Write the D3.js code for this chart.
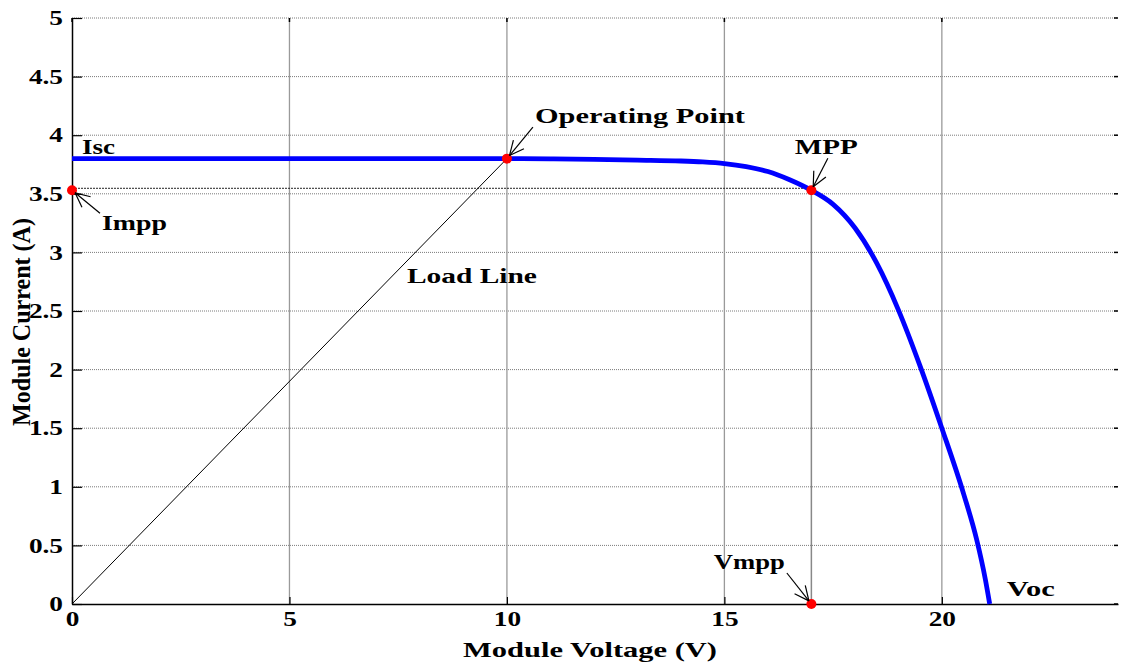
<!DOCTYPE html>
<html>
<head>
<meta charset="utf-8">
<script src="https://cdn.jsdelivr.net/npm/d3@7"></script>
<style>
  body { margin: 0; background: #fff; }
  svg { display: block; }
  text { font-family: "Liberation Serif", "Times New Roman", serif; font-weight: bold; fill: #000; }
</style>
</head>
<body>
<svg id="chart" width="1128" height="662"></svg>
<script>
// I-V curve of the PV module
const voltage = [0, 2, 4, 6, 8, 10, 11, 12, 13, 14, 14.5, 15, 15.5, 16, 16.5, 17, 17.5, 18, 18.5, 19, 19.5, 20, 20.5, 20.8, 21.0, 21.1];
const current = [3.8, 3.8, 3.8, 3.8, 3.8, 3.8, 3.798, 3.793, 3.787, 3.78, 3.772, 3.758, 3.732, 3.69, 3.62, 3.53, 3.41, 3.21, 2.91, 2.51, 2.03, 1.50, 0.94, 0.55, 0.21, 0];

// special points
const pointNames = ['Isc', 'Operating Point', 'MPP', 'Impp', 'Vmpp', 'Voc'];
const pointV = [0, 10, 17, 0, 17, 21.1];
const pointI = [3.8, 3.8, 3.53, 3.53, 0, 0];
const redDots = ['Operating Point', 'MPP', 'Impp', 'Vmpp'];

const xTicks = [0, 5, 10, 15, 20];
const yTicks = [0, 0.5, 1, 1.5, 2, 2.5, 3, 3.5, 4, 4.5, 5];
const xLabel = 'Module Voltage (V)';
const yLabel = 'Module Current (A)';

const margin = { left: 72, right: 10, top: 18, bottom: 58 };
const W = 1128, H = 662;

const x = d3.scaleLinear().domain([0, 24.05]).range([margin.left, W - margin.right]);
const y = d3.scaleLinear().domain([0, 5]).range([H - margin.bottom, margin.top]);

const pt = name => {
  const i = pointNames.indexOf(name);
  return [x(pointV[i]), y(pointI[i])];
};

const svg = d3.select('#chart');

// horizontal dotted grid
svg.append('g')
  .selectAll('line')
  .data(yTicks.filter(d => d > 0))
  .enter().append('line')
  .attr('x1', x.range()[0]).attr('x2', x.range()[1])
  .attr('y1', d => y(d)).attr('y2', d => y(d))
  .attr('stroke', '#7a7a7a').attr('stroke-width', 1)
  .attr('stroke-dasharray', '1,1');

// vertical grid
svg.append('g')
  .selectAll('line')
  .data(xTicks.filter(d => d > 0))
  .enter().append('line')
  .attr('x1', d => x(d)).attr('x2', d => x(d))
  .attr('y1', y(0)).attr('y2', y(5))
  .attr('stroke', '#9a9a9a').attr('stroke-width', 1.3);

// MPP guide lines
const mpp = pt('MPP');
svg.append('line')
  .attr('x1', x(0)).attr('x2', mpp[0])
  .attr('y1', mpp[1] - 2).attr('y2', mpp[1] - 2)
  .attr('stroke', '#222').attr('stroke-width', 1)
  .attr('stroke-dasharray', '2,1');
svg.append('line')
  .attr('x1', mpp[0]).attr('x2', mpp[0])
  .attr('y1', mpp[1]).attr('y2', y(0))
  .attr('stroke', '#888').attr('stroke-width', 1.5);

// load line
const op = pt('Operating Point');
svg.append('line')
  .attr('x1', x(0)).attr('y1', y(0))
  .attr('x2', op[0]).attr('y2', op[1])
  .attr('stroke', '#000').attr('stroke-width', 1);

// axes
const leftAxis = d3.axisLeft(y).tickValues(yTicks).tickSize(-10).tickSizeOuter(0).tickPadding(9)
  .tickFormat(d3.format('~g'));
const bottomAxis = d3.axisBottom(x).tickValues(xTicks).tickSize(-7).tickSizeOuter(0).tickPadding(7);

const gy = svg.append('g').attr('transform', `translate(${margin.left},0)`).call(leftAxis);
const gx = svg.append('g').attr('transform', `translate(0,${H - margin.bottom})`).call(bottomAxis);
[gy, gx].forEach(g => {
  g.select('.domain').attr('stroke', '#000').attr('stroke-width', 1.5);
  g.selectAll('.tick line').attr('stroke', '#000').attr('stroke-width', 1.2);
  g.selectAll('.tick text')
    .style('font-family', '"Liberation Serif", "Times New Roman", serif')
    .style('font-weight', 'bold').style('font-size', '21px').attr('fill', '#000')
    .each(function () {
      // the reference glyphs are stretched sideways
      const w = this.getComputedTextLength();
      d3.select(this).attr('textLength', w * 1.3).attr('lengthAdjust', 'spacingAndGlyphs');
    });
});

// small ticks at right and top edges
svg.append('g').selectAll('line').data(yTicks).enter().append('line')
  .attr('x1', x.range()[1]).attr('x2', x.range()[1] - 4)
  .attr('y1', d => y(d)).attr('y2', d => y(d))
  .attr('stroke', '#000').attr('stroke-width', 1.5);
svg.append('g').selectAll('line').data(xTicks).enter().append('line')
  .attr('x1', d => x(d)).attr('x2', d => x(d))
  .attr('y1', y(5)).attr('y2', y(5) + 4)
  .attr('stroke', '#000').attr('stroke-width', 1.5);

// I-V curve
const curve = d3.line()
  .x((d, i) => x(voltage[i]))
  .y((d, i) => y(current[i]))
  .curve(d3.curveMonotoneX);
svg.append('path')
  .attr('d', curve(voltage))
  .attr('fill', 'none')
  .attr('stroke', '#0000ff')
  .attr('stroke-width', 4.8);

// red dots
svg.append('g').selectAll('circle').data(redDots).enter().append('circle')
  .attr('cx', d => pt(d)[0]).attr('cy', d => pt(d)[1])
  .attr('r', 5).attr('fill', '#ff0000');

// annotations: label, offsets of text and arrow tail from the point (px)
const notes = [
  { name: 'Isc', text: 'Isc', tx: 10, ty: -4.6, len: 33 },
  { name: 'Operating Point', text: 'Operating Point', tx: 28, ty: -35.6, len: 210, ax: 26, ay: -31.6 },
  { name: 'MPP', text: 'MPP', tx: -16.5, ty: -36, len: 63, ax: 16.5, ay: -32 },
  { name: 'Impp', text: 'Impp', tx: 30, ty: 40, len: 65, ax: 28, ay: 23 },
  { name: 'Vmpp', text: 'Vmpp', tx: -97.5, ty: -35, len: 71, ax: -24.5, ay: -31 },
  { name: 'Voc', text: 'Voc', tx: 17, ty: -8, len: 48 }
];

const ag = svg.append('g').attr('stroke', '#000').attr('stroke-width', 1.2).attr('fill', 'none');
notes.forEach(n => {
  const [px, py] = pt(n.name);
  svg.append('text')
    .attr('x', px + n.tx).attr('y', py + n.ty)
    .attr('textLength', n.len).attr('lengthAdjust', 'spacingAndGlyphs')
    .style('font-size', '22px')
    .text(n.text);
  if (n.ax === undefined) return;
  const len = Math.hypot(n.ax, n.ay);
  const ux = n.ax / len, uy = n.ay / len;
  const tipX = px + ux * 4, tipY = py + uy * 4;
  ag.append('line').attr('x1', px + n.ax).attr('y1', py + n.ay).attr('x2', tipX).attr('y2', tipY);
  const ang = Math.atan2(uy, ux);
  [-0.44, 0.44].forEach(a => {
    ag.append('line')
      .attr('x1', tipX).attr('y1', tipY)
      .attr('x2', tipX + 16 * Math.cos(ang + a))
      .attr('y2', tipY + 16 * Math.sin(ang + a));
  });
});

// load line label
svg.append('text')
  .attr('x', x(7.7)).attr('y', y(2.74))
  .attr('textLength', 130).attr('lengthAdjust', 'spacingAndGlyphs')
  .style('font-size', '22px')
  .text('Load Line');

// axis titles
svg.append('text')
  .attr('x', 590).attr('y', 657)
  .attr('text-anchor', 'middle')
  .attr('textLength', 254).attr('lengthAdjust', 'spacingAndGlyphs')
  .style('font-size', '22px')
  .text(xLabel);
svg.append('text')
  .attr('transform', 'translate(30,322) rotate(-90)')
  .attr('text-anchor', 'middle')
  .attr('textLength', 208).attr('lengthAdjust', 'spacingAndGlyphs')
  .style('font-size', '25px')
  .text(yLabel);
</script>
</body>
</html>
